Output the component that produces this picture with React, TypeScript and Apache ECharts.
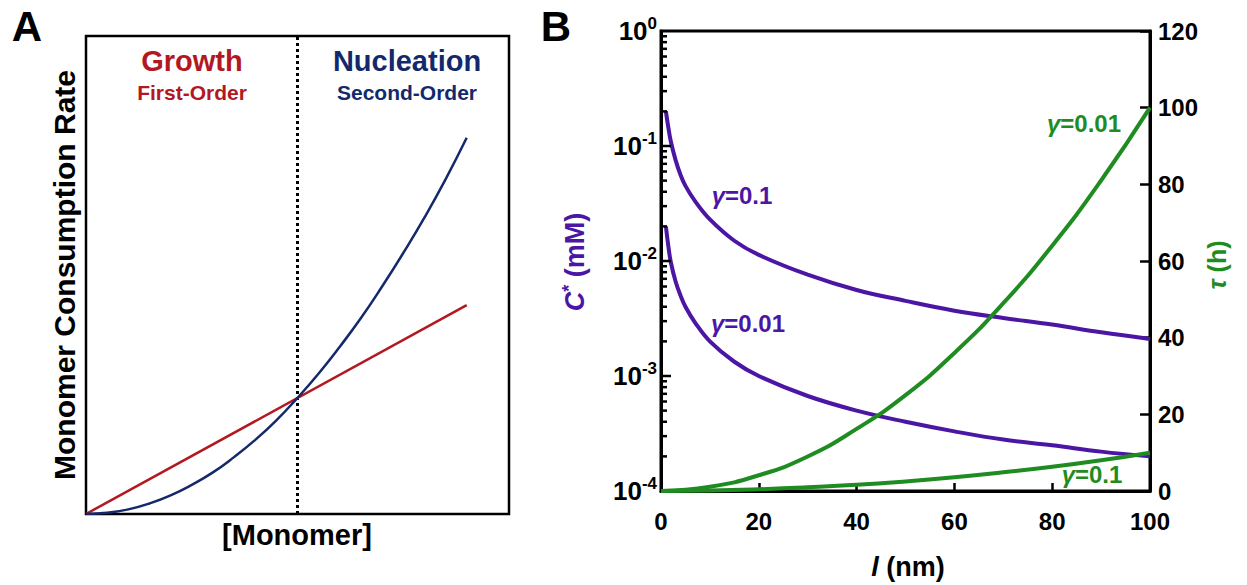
import React, { useEffect, useRef } from "react";
import * as echarts from "echarts";

// ---------- Panel A data ----------
const monomerX = [0, 0.05, 0.1, 0.15, 0.2, 0.25, 0.3, 0.35, 0.4, 0.45, 0.5, 0.55, 0.6, 0.65, 0.7, 0.75, 0.8, 0.85, 0.9];
const nucleationRate = [0, 0.0024, 0.0097, 0.022, 0.039, 0.061, 0.087, 0.119, 0.155, 0.196, 0.243, 0.294, 0.35, 0.41, 0.476, 0.546, 0.62, 0.7, 0.787];
const growthX = [0, 0.9];
const growthRate = [0, 0.437];
const dividerX = 0.5;

// ---------- Panel B data ----------
const lValues = [1, 1.5, 2, 3, 4, 5, 7, 10, 15, 20, 30, 40, 50, 60, 70, 80, 90, 100];
const cStarG01 = [0.2, 0.145, 0.11, 0.075, 0.056, 0.045, 0.033, 0.023, 0.015, 0.0113, 0.0076, 0.0056, 0.0045, 0.0037, 0.0032, 0.0028, 0.0024, 0.0021];
const cStarG001 = [0.02, 0.0135, 0.0098, 0.0066, 0.005, 0.004, 0.0029, 0.002, 0.00133, 0.001, 0.00067, 0.0005, 0.0004, 0.00033, 0.00028, 0.00025, 0.00022, 0.0002];
const lTau = [0, 10, 20, 30, 40, 50, 60, 70, 80, 90, 100];
const tauG001 = [0, 1.1, 4.1, 9, 16.2, 25, 36, 49, 64, 81, 100];
const tauG01 = [0, 0.12, 0.45, 0.95, 1.6, 2.5, 3.6, 4.9, 6.3, 8.0, 10];
const xTicksB = { min: 0, max: 100, interval: 20 };
const tauTicks = { min: 0, max: 120, interval: 20 };
const logRange = { min: 1e-4, max: 1 };
const majorDecades = [-3, -2, -1];
const minorMantissas = [2, 3, 4, 5, 6, 7, 8, 9];
const minorDecades = [-4, -3, -2, -1];

const RED = "#b3171f";
const NAVY = "#14296b";
const PURPLE = "#4b16a3";
const GREEN = "#1f8c22";
const FONT = "Liberation Sans, Arial, sans-serif";

export default function App() {
  const ref = useRef<HTMLDivElement>(null);
  useEffect(() => {
    document.body.style.margin = "0";
    const chart = echarts.init(ref.current!, null, { renderer: "svg" });

    const gammaLabel = (x: number, y: number, v: string, color: string) => ({
      type: "text", x, y,
      style: {
        text: `{g|γ}{v|=${v}}`, align: "center", verticalAlign: "middle",
        rich: { g: { font: `italic bold 24px ${FONT}`, fill: color }, v: { font: `bold 24px ${FONT}`, fill: color } },
      },
    });

    const staticGraphics: any[] = [
      { type: "text", x: 27, y: 26, style: { text: "A", font: `bold 42px ${FONT}`, fill: "#000", align: "center", verticalAlign: "middle" } },
      { type: "text", x: 556, y: 26, style: { text: "B", font: `bold 42px ${FONT}`, fill: "#000", align: "center", verticalAlign: "middle" } },
      { type: "text", x: 192, y: 61, style: { text: "Growth", font: `bold 29px ${FONT}`, fill: RED, align: "center", verticalAlign: "middle" } },
      { type: "text", x: 192, y: 92, style: { text: "First-Order", font: `bold 21px ${FONT}`, fill: RED, align: "center", verticalAlign: "middle" } },
      { type: "text", x: 407, y: 61, style: { text: "Nucleation", font: `bold 29px ${FONT}`, fill: NAVY, align: "center", verticalAlign: "middle" } },
      { type: "text", x: 407, y: 92, style: { text: "Second-Order", font: `bold 21px ${FONT}`, fill: NAVY, align: "center", verticalAlign: "middle" } },
      { type: "text", x: 297, y: 535, style: { text: "[Monomer]", font: `bold 29px ${FONT}`, fill: "#000", align: "center", verticalAlign: "middle" } },
      { type: "text", x: 64, y: 275, rotation: Math.PI / 2, style: { text: "Monomer Consumption Rate", font: `bold 30px ${FONT}`, fill: "#000", align: "center", verticalAlign: "middle" } },
      {
        type: "text", x: 575, y: 262, rotation: Math.PI / 2,
        style: {
          text: "{c|C}{s|*}{m| (mM)}", align: "center", verticalAlign: "middle",
          rich: {
            c: { font: `italic bold 27px ${FONT}`, fill: PURPLE, lineHeight: 30 },
            s: { font: `bold 18px ${FONT}`, fill: PURPLE, verticalAlign: "top", lineHeight: 30 },
            m: { font: `bold 27px ${FONT}`, fill: PURPLE, lineHeight: 30 },
          },
        },
      },
      {
        type: "text", x: 1217, y: 265, rotation: Math.PI / 2,
        style: {
          text: "{t|τ}{m| (h)}", align: "center", verticalAlign: "middle",
          rich: {
            t: { font: `italic bold 25px ${FONT}`, fill: GREEN },
            m: { font: `bold 25px ${FONT}`, fill: GREEN },
          },
        },
      },
      {
        type: "text", x: 908, y: 567,
        style: {
          text: "{l|l}{m| (nm)}", align: "center", verticalAlign: "middle",
          rich: {
            l: { font: `italic bold 27px ${FONT}`, fill: "#000" },
            m: { font: `bold 27px ${FONT}`, fill: "#000" },
          },
        },
      },
      gammaLabel(742, 195, "0.1", PURPLE),
      gammaLabel(748, 323, "0.01", PURPLE),
      gammaLabel(1084, 123, "0.01", GREEN),
      gammaLabel(1092, 474, "0.1", GREEN),
    ];

    const option: any = {
      animation: false,
      backgroundColor: "#fff",
      textStyle: { fontFamily: FONT },
      grid: [
        { left: 86, top: 36, width: 423, height: 478, show: true, borderColor: "#000", borderWidth: 2.5, backgroundColor: "transparent" },
        { left: 661, top: 31, width: 489, height: 460, show: true, borderColor: "#000", borderWidth: 3, backgroundColor: "transparent" },
      ],
      xAxis: [
        { gridIndex: 0, type: "value", min: 0, max: 1, show: false },
        {
          gridIndex: 1, type: "value", min: xTicksB.min, max: xTicksB.max, interval: xTicksB.interval,
          axisLine: { show: true, lineStyle: { color: "#000", width: 3 } },
          axisTick: { show: true, inside: true, length: 8, lineStyle: { color: "#000", width: 2.5 } },
          axisLabel: { color: "#000", fontSize: 24, fontWeight: "bold", margin: 18, fontFamily: FONT },
          splitLine: { show: false },
        },
      ],
      yAxis: [
        { gridIndex: 0, type: "value", min: 0, max: 1, show: false },
        {
          gridIndex: 1, type: "log", logBase: 10, min: logRange.min, max: logRange.max, position: "left",
          axisLine: { show: true, lineStyle: { color: "#000", width: 3 } },
          axisTick: { show: false },
          axisLabel: {
            margin: 4,
            formatter: (v: number) => `{a|10}{b|${Math.round(Math.log10(v))}}`,
            rich: {
              a: { fontSize: 26, fontWeight: "bold", color: "#000", fontFamily: FONT, lineHeight: 32 },
              b: { fontSize: 17, fontWeight: "bold", color: "#000", fontFamily: FONT, verticalAlign: "top", lineHeight: 32 },
            },
          },
          splitLine: { show: false },
        },
        {
          gridIndex: 1, type: "value", min: tauTicks.min, max: tauTicks.max, interval: tauTicks.interval, position: "right",
          axisLine: { show: true, lineStyle: { color: "#000", width: 3 } },
          axisTick: { show: true, inside: true, length: 10, lineStyle: { color: "#000", width: 2.5 } },
          axisLabel: { color: "#000", fontSize: 24, fontWeight: "bold", margin: 8, fontFamily: FONT },
          splitLine: { show: false },
        },
      ],
      series: [
        {
          type: "line", xAxisIndex: 0, yAxisIndex: 0, symbol: "none",
          data: [[dividerX, 0], [dividerX, 1]],
          lineStyle: { color: "#000", width: 3, type: [3, 3] }, z: 1,
        },
        {
          type: "line", xAxisIndex: 0, yAxisIndex: 0, symbol: "none",
          data: growthX.map((x, i) => [x, growthRate[i]]),
          lineStyle: { color: RED, width: 2.5 }, z: 2,
        },
        {
          type: "line", xAxisIndex: 0, yAxisIndex: 0, symbol: "none", smooth: true,
          data: monomerX.map((x, i) => [x, nucleationRate[i]]),
          lineStyle: { color: NAVY, width: 2.5 }, z: 3,
        },
        {
          type: "line", xAxisIndex: 1, yAxisIndex: 1, symbol: "none", smooth: 0.4,
          data: lValues.map((x, i) => [x, cStarG01[i]]),
          lineStyle: { color: PURPLE, width: 4 }, z: 3,
        },
        {
          type: "line", xAxisIndex: 1, yAxisIndex: 1, symbol: "none", smooth: 0.4,
          data: lValues.map((x, i) => [x, cStarG001[i]]),
          lineStyle: { color: PURPLE, width: 4 }, z: 3,
        },
        {
          type: "line", xAxisIndex: 1, yAxisIndex: 2, symbol: "none", smooth: true,
          data: lTau.map((x, i) => [x, tauG001[i]]),
          lineStyle: { color: GREEN, width: 4 }, z: 4,
        },
        {
          type: "line", xAxisIndex: 1, yAxisIndex: 2, symbol: "none", smooth: true,
          data: lTau.map((x, i) => [x, tauG01[i]]),
          lineStyle: { color: GREEN, width: 4 }, z: 4,
        },
      ],
      graphic: staticGraphics,
    };
    chart.setOption(option);

    // log-axis ticks placed through the library's own log scale
    const tickGraphics: any[] = [];
    const addTick = (v: number, len: number) => {
      const p = chart.convertToPixel({ xAxisIndex: 1, yAxisIndex: 1 } as any, [0, v]) as any;
      if (!p || !isFinite(p[1])) return;
      tickGraphics.push({
        type: "line", z: 100,
        shape: { x1: p[0], y1: p[1], x2: p[0] + len, y2: p[1] },
        style: { stroke: "#000", lineWidth: 2.5 },
      });
    };
    majorDecades.forEach((d) => addTick(Math.pow(10, d), 10));
    minorDecades.forEach((d) => minorMantissas.forEach((m) => addTick(m * Math.pow(10, d), 6)));
    chart.setOption({ graphic: staticGraphics.concat(tickGraphics) });

    return () => chart.dispose();
  }, []);
  return <div ref={ref} style={{ width: 1247, height: 585 }} />;
}
